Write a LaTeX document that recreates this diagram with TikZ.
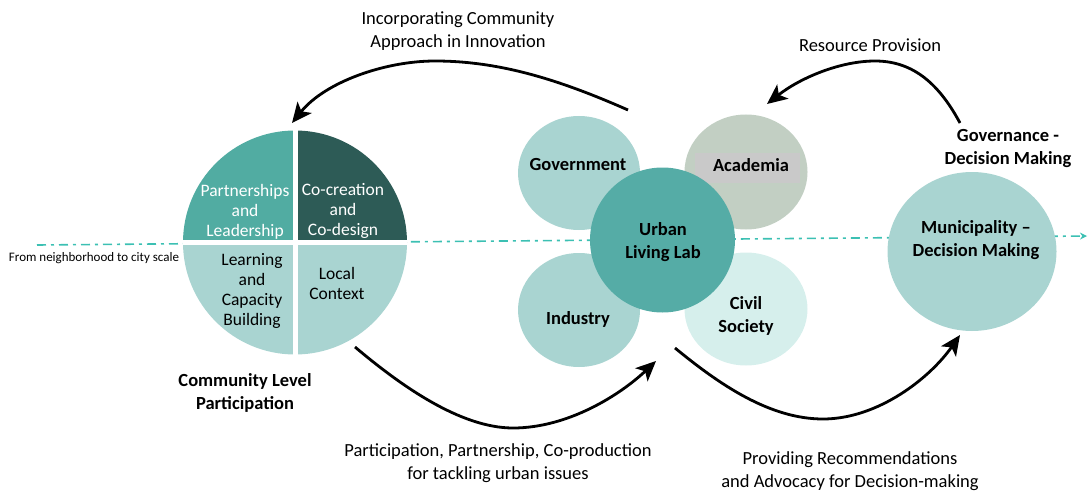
\documentclass[tikz,border=0pt]{standalone}
\usepackage{fontspec}
\setmainfont{Carlito}
\usetikzlibrary{arrows.meta,shapes.geometric}
\definecolor{qtl}{HTML}{51ACA2}
\definecolor{qtr}{HTML}{2D5B56}
\definecolor{qlight}{HTML}{A9D4D1}
\definecolor{acad}{HTML}{C2CFC3}
\definecolor{acadrect}{HTML}{C9C9C9}
\definecolor{civil}{HTML}{D6EFEC}
\definecolor{ull}{HTML}{55ACA6}
\definecolor{dashc}{HTML}{3CC0B3}
\begin{document}
\begin{tikzpicture}[x=1pt,y=-1pt,
  blob/.style={ellipse, inner sep=0pt, draw=none},
  lbl/.style={inner sep=0pt, align=center, font=\fontsize{18.5}{23.5}\selectfont},
  blbl/.style={inner sep=0pt, align=center, font=\fontsize{18.5}{23}\selectfont\bfseries},
  qlbl/.style={inner sep=0pt, align=center, font=\fontsize{17.5}{20}\selectfont},
  arr/.style={line width=2.8pt, -{Stealth[length=20pt,width=18pt,inset=5pt]}},
  scaleline/.style={draw=dashc, line width=1.6pt, dash pattern=on 9pt off 5pt on 3pt off 5pt, -{Stealth[length=7pt,width=7pt]}},
  sep/.style={draw=white, line width=5pt}]
\useasboundingbox (0,0) rectangle (1089,492);

% scale axis
\coordinate (axs) at (37,245);
\coordinate (axe) at (1087,236);
\draw[scaleline] (axs) -- (axe);
\node[inner sep=0pt, font=\fontsize{13}{15}\selectfont] (scalet) at (94,258) {From neighborhood to city scale};

% community quadrant circle
\node[circle, minimum size=224pt, inner sep=0pt] (comm) at (295,242.5) {};
\fill[qtl] (comm.center) -- ++(-112,0) arc[start angle=180, end angle=270, radius=112] -- cycle;
\fill[qtr] (comm.center) -- ++(0,-112) arc[start angle=270, end angle=360, radius=112] -- cycle;
\fill[qlight] (comm.center) -- ++(112,0) arc[start angle=0, end angle=90, radius=112] -- cycle;
\fill[qlight] (comm.center) -- ++(0,112) arc[start angle=90, end angle=180, radius=112] -- cycle;
\draw[sep] (comm.west) -- (comm.east);
\draw[sep] (comm.north) -- (comm.south);
\node[qlbl, text=white] (qtlt) at (245,212) {Partnerships\\and\\Leadership};
\node[qlbl, text=white] (qtrt) at (343,211) {Co-creation\\and\\Co-design};
\node[qlbl] (qblt) at (252,291) {Learning\\and\\Capacity\\Building};
\node[qlbl] (qbrt) at (337,283) {Local\\Context};
\node[blbl] (commt) at (245,393) {Community Level\\Participation};

% ULL cluster
\node[blob, fill=qlight, minimum width=122pt, minimum height=114pt] (gov) at (579,173) {};
\node[blob, fill=acad, minimum width=123pt, minimum height=115pt] (acad) at (746,172) {};
\fill[acadrect] (695,153) rectangle (800,183);
\node[blob, fill=qlight, minimum width=122pt, minimum height=114pt] (ind) at (579,310) {};
\node[blob, fill=civil, minimum width=123pt, minimum height=113pt] (civ) at (746,309) {};
\node[circle, fill=ull, minimum size=145pt, inner sep=0pt] (ullc) at (662.5,240) {};
\node[blbl] (govt) at (578,165) {Government};
\node[blbl] (acadt) at (751,165) {Academia};
\node[blbl] (indt) at (578,319) {Industry};
\node[blbl] (civt) at (746,316) {Civil\\Society};
\node[blbl] (ullt) at (663,242) {Urban\\Living Lab};

% municipality
\node[blob, fill=qlight, minimum width=169pt, minimum height=159pt] (muni) at (972,251.5) {};
\node[blbl] (munit) at (976,240) {Municipality --\\Decision Making};
\node[blbl] (govdt) at (1008,149) {Governance -\\Decision Making};

% arrows
\coordinate (a1s) at (628,110);
\coordinate (a1e) at (292,123);
\draw[arr] (a1s) .. controls (560,80) and (500,61) .. (435,61) .. controls (385,61) and (325,82) .. (a1e);
\node[lbl] (a1t) at (458,31) {Incorporating Community\\Approach in Innovation};

\coordinate (a2s) at (960,123);
\coordinate (a2e) at (767,104);
\draw[arr] (a2s) .. controls (937,80) and (910,61) .. (875,61) .. controls (840,61) and (800,78) .. (a2e);
\node[lbl] (a2t) at (870,45) {Resource Provision};

\coordinate (a3s) at (355,347);
\coordinate (a3e) at (656,361);
\draw[arr] (a3s) .. controls (400,385) and (460,428) .. (513,428) .. controls (568,428) and (620,395) .. (a3e);
\node[lbl] (a3t) at (498,463) {Participation, Partnership, Co-production\\for tackling urban issues};

\coordinate (a4s) at (675,348);
\coordinate (a4e) at (960,335);
\draw[arr] (a4s) .. controls (720,385) and (770,419) .. (823,419) .. controls (878,419) and (930,378) .. (a4e);
\node[lbl] (a4t) at (850,471) {Providing Recommendations\\and Advocacy for Decision-making};
\end{tikzpicture}
\end{document}
